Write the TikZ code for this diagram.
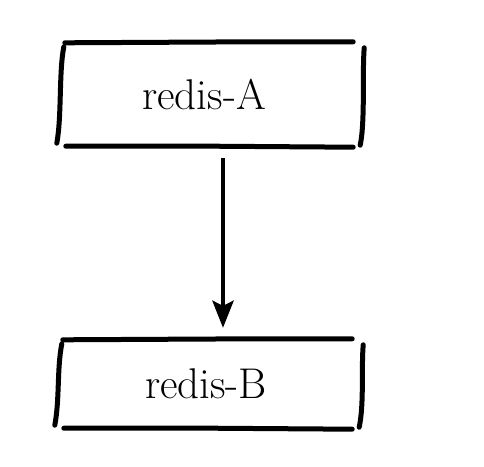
\documentclass[tikz,border=0pt]{standalone}
\usepackage{tikz}
\usetikzlibrary{arrows.meta}

\tikzset{
  sketch/.style={line width=5pt, line cap=round, black},
  redisbox/.style={minimum width=303pt, minimum height=103pt, inner sep=0pt,
    font=\fontsize{43}{48}\selectfont},
}

% hand drawn frame round a node
\newcommand{\sketchbox}[1]{%
  \draw[sketch] ([shift={(5,0)}]#1.north west) -- ([shift={(-110,-1)}]#1.north east) -- ([shift={(-10,-1)}]#1.north east);
  \draw[sketch] ([shift={(6,0)}]#1.south west) -- ([shift={(-150,0)}]#1.south east) -- ([shift={(-10,1)}]#1.south east);
  \draw[sketch] ([shift={(4,4)}]#1.north west) .. controls ([shift={(-1,30)}]#1.north west) and ([shift={(2,-30)}]#1.south west) .. ([shift={(-3,-3)}]#1.south west);
  \draw[sketch] ([shift={(1,5)}]#1.north east) .. controls ([shift={(-1,30)}]#1.north east) and ([shift={(2,-25)}]#1.south east) .. ([shift={(-3,-1)}]#1.south east);
}

\begin{document}
\begin{tikzpicture}[x=1pt, y=-1pt]
    \useasboundingbox (0,0) rectangle (484,466);

    % the two servers
    \node[redisbox] (A) at (211.5,94.5) {\hspace{-15pt}redis-A};
    \node[redisbox, minimum width=304pt, minimum height=88pt] (B) at (210,384) {\hspace{-8pt}redis-B};
    \sketchbox{A}
    \sketchbox{B}

    % replication
    \draw[sketch, line width=4.6pt, line cap=butt, -{Stealth[length=27pt, width=21pt, inset=5pt]}, shorten <=12pt, shorten >=12pt]
      ([xshift=11.5pt]A.south) -- ([xshift=13pt]B.north);
\end{tikzpicture}
\end{document}
